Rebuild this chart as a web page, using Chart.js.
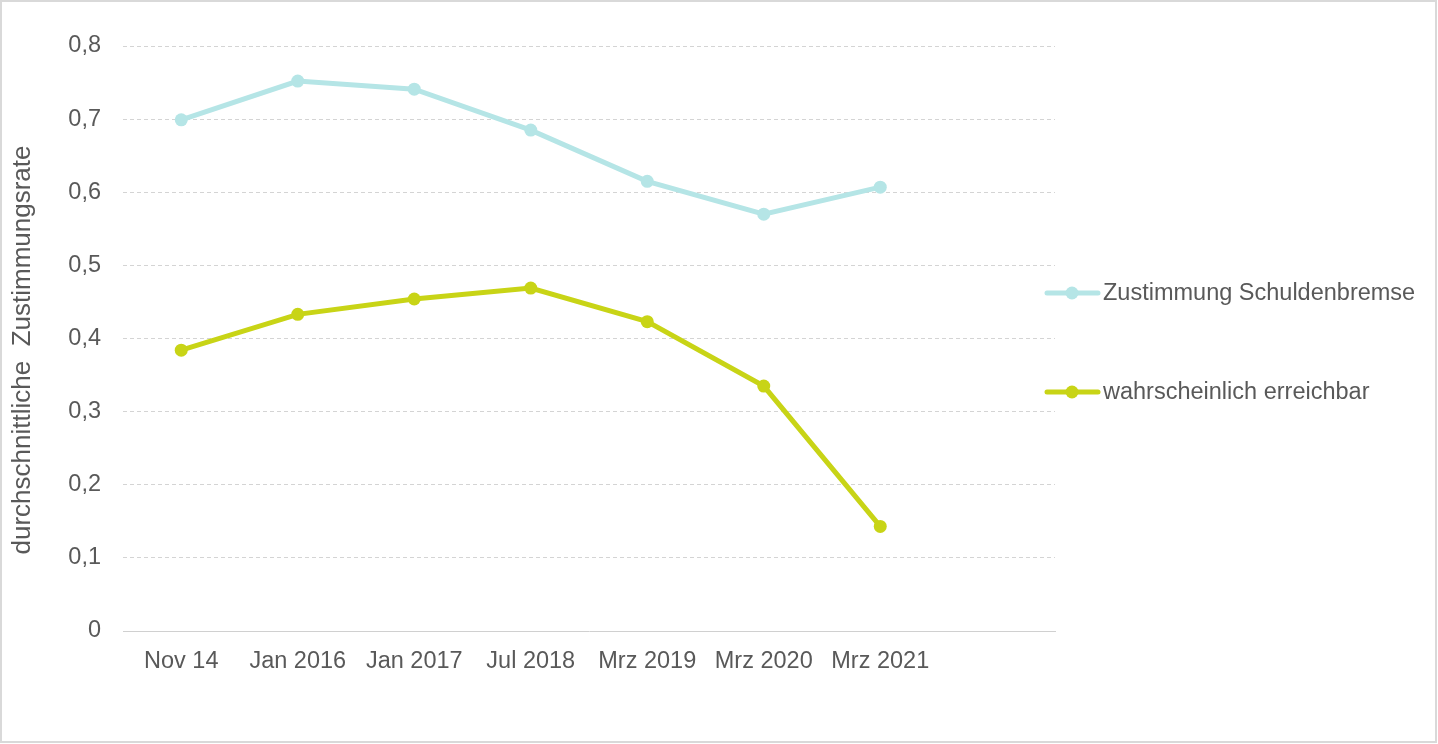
<!DOCTYPE html>
<html>
<head>
<meta charset="utf-8">
<script src="https://cdn.jsdelivr.net/npm/chart.js@4"></script>
<style>
  body { margin: 0; background: #fff; }
  #wrap { position: relative; width: 1438px; height: 744px; }
  #frame { position: absolute; left: 0; top: 0; width: 1437px; height: 743px;
           box-sizing: border-box; border: 2px solid #d9d9d9; pointer-events: none; }
</style>
</head>
<body>
<div id="wrap">
  <canvas id="lineChart" width="1438" height="744"></canvas>
  <div id="frame"></div>
</div>
<script>
const ctx = document.getElementById("lineChart");

// data
const labels = ['Nov 14', 'Jan 2016', 'Jan 2017', 'Jul 2018', 'Mrz 2019', 'Mrz 2020', 'Mrz 2021', ''];
const zustimmung = [0.699, 0.752, 0.741, 0.685, 0.615, 0.570, 0.607];
const erreichbar = [0.384, 0.433, 0.454, 0.469, 0.423, 0.335, 0.143];
const seriesNames = ['Zustimmung Schuldenbremse', 'wahrscheinlich erreichbar'];
const yTitle = 'durchschnittliche  Zustimmungsrate';

const textColor = '#595959';
const fontFamily = "'Liberation Sans', Arial, sans-serif";

function fmt(v) {
    if (v === 0) return '0';
    return v.toFixed(1).replace('.', ',');
}

// legend + y title drawn by hand so they sit where the original has them
const extras = {
    id: 'extras',
    afterDraw(chart) {
        const c = chart.ctx;
        c.save();
        // y title
        c.translate(30, 350);
        c.rotate(-Math.PI / 2);
        c.font = '26px ' + fontFamily;
        c.fillStyle = textColor;
        c.textAlign = 'center';
        c.textBaseline = 'alphabetic';
        c.fillText(yTitle, 0, 0);
        c.restore();

        // legend
        const rows = [293, 392];
        chart.data.datasets.forEach((ds, i) => {
            const y = rows[i];
            c.save();
            c.strokeStyle = ds.borderColor;
            c.lineWidth = ds.borderWidth;
            c.lineCap = 'round';
            c.beginPath();
            c.moveTo(1047, y);
            c.lineTo(1098, y);
            c.stroke();
            c.fillStyle = ds.borderColor;
            c.beginPath();
            c.arc(1072, y, ds.pointRadius, 0, Math.PI * 2);
            c.fill();
            c.font = '23.5px ' + fontFamily;
            c.fillStyle = textColor;
            c.textAlign = 'left';
            c.textBaseline = 'middle';
            c.fillText(ds.label, 1103, y + 1);
            c.restore();
        });
    }
};

const data = {
    labels: labels,
    datasets: [{
        label: seriesNames[0],
        data: zustimmung,
        borderColor: '#b5e5e6',
        backgroundColor: '#b5e5e6',
        borderWidth: 5,
        pointRadius: 6.5,
        pointHoverRadius: 6.5,
        pointBorderWidth: 0,
        tension: 0,
    }, {
        label: seriesNames[1],
        data: erreichbar,
        borderColor: '#c8d416',
        backgroundColor: '#c8d416',
        borderWidth: 5,
        pointRadius: 6.5,
        pointHoverRadius: 6.5,
        pointBorderWidth: 0,
        tension: 0,
    }]
};

const scales = {
    x: {
        offset: true,
        grid: {
            display: false,
        },
        border: {
            display: true,
            color: '#d0d0d0',
            width: 1,
        },
        ticks: {
            color: textColor,
            padding: 8,
            maxRotation: 0,
            autoSkip: false,
            font: { family: fontFamily, size: 23.5 }
        },
        afterFit(scale) {
            scale.height = 744 - 631;
        }
    },
    y: {
        min: 0,
        max: 0.8,
        grid: {
            color: '#d4d4d4',
            lineWidth: 1,
            drawTicks: false,
        },
        border: {
            display: false,
            dash: [4, 3],
        },
        ticks: {
            stepSize: 0.1,
            color: textColor,
            padding: 22,
            font: { family: fontFamily, size: 23.5 },
            callback: (v) => fmt(v)
        },
        afterFit(scale) {
            scale.width = 123;
        }
    }
};

const lineChart = new Chart(ctx, {
    type: 'line',
    data,
    options: {
        responsive: false,
        animation: false,
        layout: {
            padding: { left: 0, top: 46, right: 383, bottom: 0 }
        },
        scales: scales,
        plugins: {
            legend: { display: false },
            tooltip: { enabled: false },
        },
    },
    plugins: [extras],
});
</script>
</body>
</html>
